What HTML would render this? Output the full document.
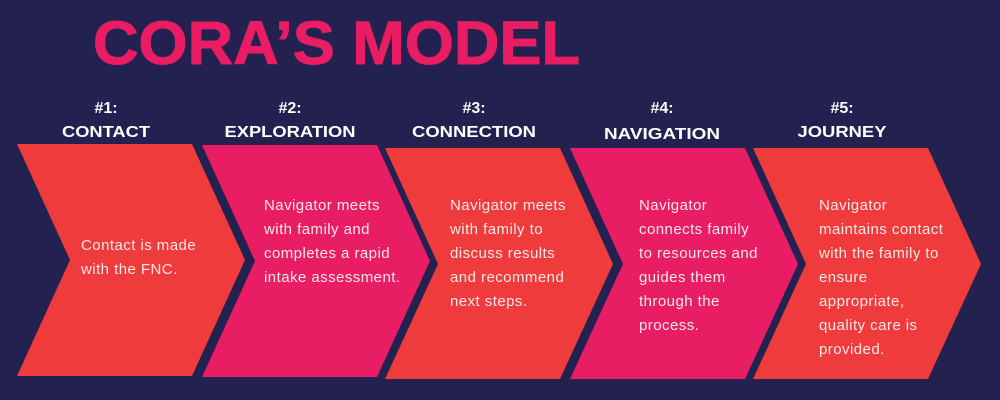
<!DOCTYPE html>
<html><head><meta charset="utf-8"><style>
html,body{margin:0;padding:0;background:#22214f;}
svg{display:block;}
text{font-family:"Liberation Sans",sans-serif;}
.h{font-weight:bold;font-size:16px;fill:#fff;text-anchor:middle;}
.b{font-size:15px;fill:#fde8e8;letter-spacing:0.45px;}
</style></head><body>
<svg width="1000" height="400" viewBox="0 0 1000 400">
<rect width="1000" height="400" fill="#22214f"/>
<text x="93" y="64" font-size="61" font-weight="bold" fill="#e91d63" stroke="#e91d63" stroke-width="1" textLength="487" lengthAdjust="spacingAndGlyphs">CORA’S MODEL</text>
<polygon points="17,144 192,144 245,260 192,376 17,376 70,260" fill="#ef3b3b"/>
<polygon points="202,145 377,145 430,261 377,377 202,377 255,261" fill="#e91d63"/>
<polygon points="385,148 560,148 613,264 560,379 385,379 438,264" fill="#ef3b3b"/>
<polygon points="570,148 745,148 798,264 745,379 570,379 623,264" fill="#e91d63"/>
<polygon points="753,148 928,148 981,264 928,379 753,379 806,264" fill="#ef3b3b"/>
<text class="h" x="106" y="113">#1:</text><text class="h" x="106" y="137" textLength="88" lengthAdjust="spacingAndGlyphs">CONTACT</text>
<text class="h" x="290" y="113">#2:</text><text class="h" x="290" y="137" textLength="131" lengthAdjust="spacingAndGlyphs">EXPLORATION</text>
<text class="h" x="474" y="113">#3:</text><text class="h" x="474" y="137" textLength="124" lengthAdjust="spacingAndGlyphs">CONNECTION</text>
<text class="h" x="662" y="113">#4:</text><text class="h" x="662" y="139" textLength="116" lengthAdjust="spacingAndGlyphs">NAVIGATION</text>
<text class="h" x="842" y="113">#5:</text><text class="h" x="842" y="137" textLength="89" lengthAdjust="spacingAndGlyphs">JOURNEY</text>
<g class="b">
<text x="81" y="250">Contact is made</text><text x="81" y="274">with the FNC.</text>
<text x="264" y="210">Navigator meets</text><text x="264" y="234">with family and</text><text x="264" y="258">completes a rapid</text><text x="264" y="282">intake assessment.</text>
<text x="450" y="210">Navigator meets</text><text x="450" y="234">with family to</text><text x="450" y="258">discuss results</text><text x="450" y="282">and recommend</text><text x="450" y="306">next steps.</text>
<text x="639" y="210">Navigator</text><text x="639" y="234">connects family</text><text x="639" y="258">to resources and</text><text x="639" y="282">guides them</text><text x="639" y="306">through the</text><text x="639" y="330">process.</text>
<text x="819" y="210">Navigator</text><text x="819" y="234">maintains contact</text><text x="819" y="258">with the family  to</text><text x="819" y="282">ensure</text><text x="819" y="306">appropriate,</text><text x="819" y="330">quality care is</text><text x="819" y="354">provided.</text>
</g>
</svg>
</body></html>
